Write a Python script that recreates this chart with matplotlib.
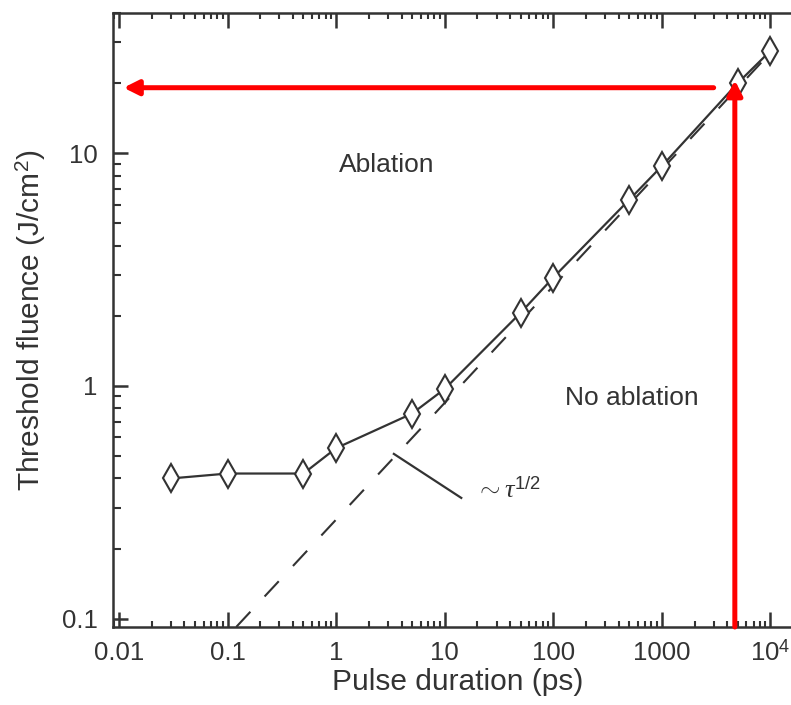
import numpy as np
import matplotlib
matplotlib.use('Agg')
import matplotlib.pyplot as plt
from matplotlib.ticker import FixedLocator, LogLocator, NullFormatter

plt.rcParams['font.family'] = ['Liberation Sans', 'DejaVu Sans']
plt.rcParams['mathtext.fontset'] = 'custom'
plt.rcParams['mathtext.rm'] = 'Liberation Sans'
plt.rcParams['mathtext.it'] = 'Liberation Serif:italic'

######################################################################
## data
pulseDuration = [0.03, 0.1, 0.5, 1, 5, 10, 50, 100, 500, 1000, 5000, 10000]   # ps
thresholdFluence = [0.40, 0.42, 0.42, 0.54, 0.76, 0.97, 2.06, 2.92, 6.3, 8.8, 20.0, 27.5]  # J/cm2

## ~tau^(1/2) guide line, two end points
sqrtLineX = [0.12, 10000]
sqrtLineY = [0.092, 27.0]

## leader line for the ~tau^1/2 label
leaderX = [3.4, 14.2]
leaderY = [0.51, 0.33]

## red arrows (read-off point: ~5000 ps -> ~19 J/cm2)
arrowH = [(3000, 19.1), (0.011, 19.1)]
arrowV = [(4700, 0.092), (4700, 20.6)]

xTicks = [0.01, 0.1, 1, 10, 100, 1000, 10000]
xTickLabels = ['0.01', '0.1', '1', '10', '100', '1000', '10$^4$']
yTicks = [0.1, 1, 10]
yTickLabels = ['0.1', '1', '10']

INK = '#333333'

######################################################################
## figure
fig = plt.figure(figsize=(7.91, 7.05), dpi=100)
ax = fig.add_axes([113 / 791, 78 / 705, 690 / 791, 614 / 705])
ax.set_xscale('log')
ax.set_yscale('log')
ax.set_xlim(0.0088, 10 ** 4.3)
ax.set_ylim(0.092, 40)

ax.plot(sqrtLineX, sqrtLineY, color=INK, lw=1.5, dashes=(10, 10))
ax.plot(pulseDuration, thresholdFluence, color=INK, lw=1.6,
        marker='d', markersize=14, markerfacecolor='white',
        markeredgecolor=INK, markeredgewidth=1.5)
ax.plot(leaderX, leaderY, color=INK, lw=1.6)

ax.text(2.95, 8.9, 'Ablation', fontsize=19, color=INK, ha='center', va='center')
ax.text(530, 0.89, 'No ablation', fontsize=19, color=INK, ha='center', va='center')
ax.text(19.5, 0.355, r'$\sim\tau^{\mathrm{1/2}}$', fontsize=19, color=INK,
        ha='left', va='center')

## red arrows
for arr in [arrowH, arrowV]:
    ax.annotate('', xy=arr[1], xytext=arr[0],
                arrowprops=dict(arrowstyle='-|>', color='red', lw=3.6,
                                mutation_scale=22, shrinkA=0, shrinkB=0))

## axes styling
for side in ['left', 'bottom', 'top']:
    ax.spines[side].set_linewidth(1.8)
    ax.spines[side].set_color(INK)
ax.spines['right'].set_visible(False)

ax.xaxis.set_major_locator(FixedLocator(xTicks))
ax.set_xticklabels(xTickLabels)
ax.xaxis.set_minor_locator(LogLocator(base=10, subs=np.arange(2, 10)))
ax.xaxis.set_minor_formatter(NullFormatter())
ax.yaxis.set_major_locator(FixedLocator(yTicks))
ax.set_yticklabels(yTickLabels)
ax.yaxis.set_minor_locator(LogLocator(base=10, subs=np.arange(2, 10)))
ax.yaxis.set_minor_formatter(NullFormatter())

ax.tick_params(which='both', direction='in', top=True, right=False, color=INK)
ax.tick_params(which='major', length=11, width=1.8, labelsize=18.5,
               labelcolor=INK, pad=11)
ax.tick_params(axis='x', which='major', pad=24)
ax.tick_params(axis='x', which='minor', length=4, width=1.5)
ax.tick_params(axis='y', which='minor', length=6, width=1.5)
for lab in ax.get_xticklabels():
    lab.set_va('baseline')

ax.set_xlabel('Pulse duration (ps)', fontsize=21.5, color=INK)
ax.xaxis.set_label_coords(0.5, -0.066)
ax.xaxis.label.set_va('top')
ax.set_ylabel('Threshold fluence (J/cm$^2$)', fontsize=21.5, color=INK, labelpad=10)

fig.savefig('out.png', dpi=100)
